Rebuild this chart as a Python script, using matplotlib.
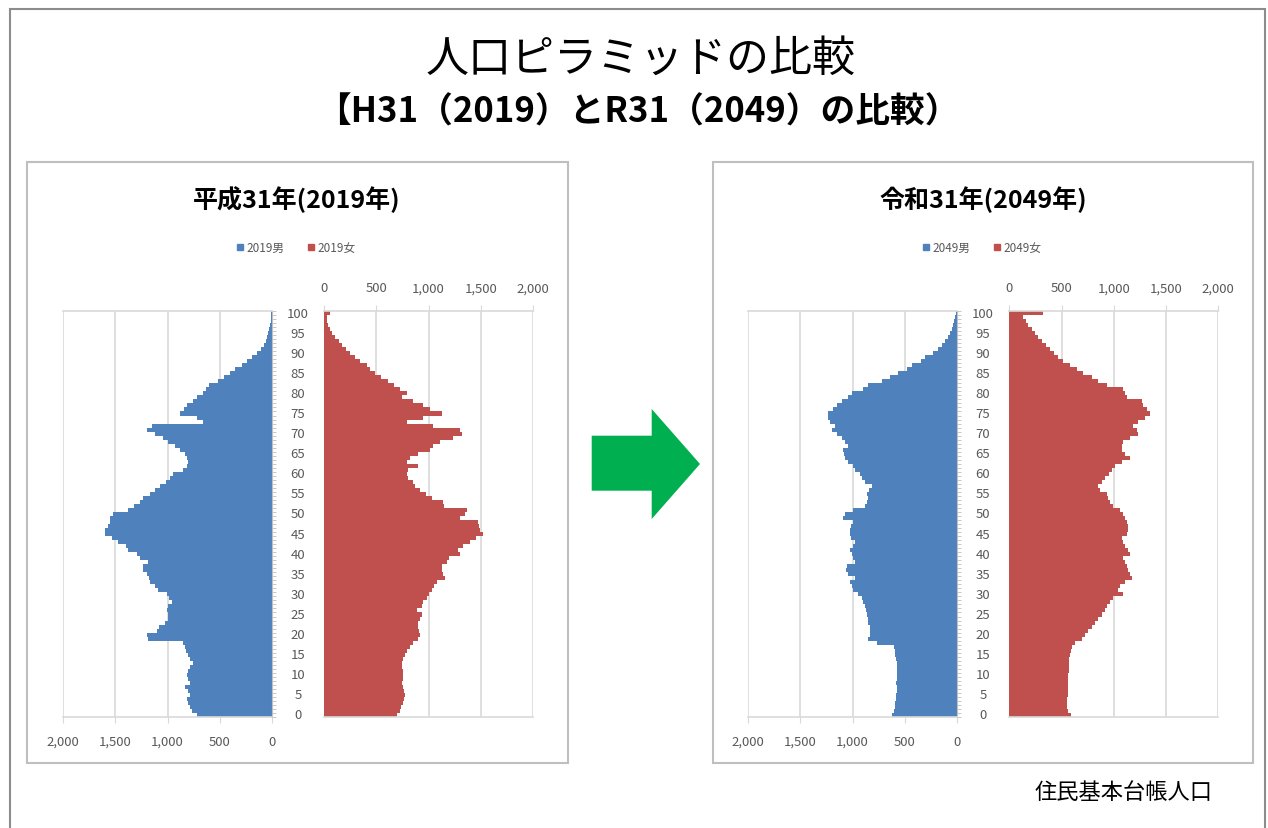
import matplotlib
matplotlib.use("Agg")
import matplotlib.pyplot as plt
from matplotlib.patches import Rectangle, Polygon
from matplotlib.transforms import blended_transform_factory
import numpy as np

plt.rcParams['font.family'] = ['Noto Sans CJK JP', 'DejaVu Sans']

# ---------------- data ----------------
ages = list(range(0, 101))

male_2019 = [720, 770, 785, 800, 817, 785, 800, 833, 785, 800,
             817, 800, 785, 753, 780, 801, 820, 833, 849, 1183,
             1199, 1103, 1080, 1024, 1000, 995, 1008, 1000, 960, 990,
             1008, 1088, 1120, 1167, 1180, 1199, 1232, 1232, 1190, 1260,
             1295, 1375, 1400, 1471, 1534, 1598, 1598, 1570, 1550, 1550,
             1520, 1380, 1320, 1263, 1230, 1167, 1120, 1072, 1010, 975,
             945, 850, 817, 800, 817, 830, 880, 930, 1000, 1040,
             1120, 1199, 1150, 657, 720, 880, 840, 817, 753, 720,
             660, 630, 600, 520, 460, 402, 350, 290, 240, 190,
             147, 110, 80, 60, 45, 35, 25, 15, 10, 6, 5]

female_2019 = [698, 727, 740, 759, 770, 775, 765, 755, 743, 755,
               759, 759, 750, 743, 760, 775, 791, 820, 855, 900,
               919, 910, 903, 903, 920, 935, 887, 935, 950, 982,
               1000, 1030, 1050, 1078, 1158, 1140, 1126, 1126, 1174, 1200,
               1301, 1285, 1333, 1400, 1450, 1518, 1493, 1480, 1477, 1301,
               1349, 1365, 1150, 1142, 1030, 980, 919, 870, 850, 800,
               791, 807, 903, 791, 820, 900, 1014, 1040, 1110, 1238,
               1317, 1300, 1046, 791, 951, 1126, 1014, 950, 855, 743,
               791, 727, 670, 616, 550, 488, 440, 408, 345, 300,
               249, 210, 175, 140, 105, 73, 55, 40, 30, 25, 57]

male_2049 = [624, 600, 592, 592, 585, 580, 576, 576, 580, 576,
             576, 576, 576, 576, 580, 590, 592, 600, 768, 848,
             835, 832, 832, 848, 855, 864, 870, 880, 896, 910,
             944, 1000, 1008, 1024, 976, 1040, 1060, 1056, 976, 1000,
             1008, 1024, 1000, 976, 1010, 1024, 1024, 1010, 992, 1088,
             1070, 1000, 880, 860, 848, 864, 840, 816, 880, 910,
             928, 976, 1000, 1040, 1072, 1080, 1088, 1040, 1072, 1104,
             1150, 1200, 1168, 1216, 1232, 1232, 1184, 1150, 1104, 1040,
             1008, 900, 848, 720, 640, 560, 480, 432, 340, 304,
             224, 180, 140, 112, 85, 64, 48, 35, 25, 15, 10]

female_2049 = [588, 565, 556, 549, 556, 565, 565, 565, 565, 565,
               565, 575, 575, 575, 575, 581, 588, 604, 629, 692,
               724, 756, 788, 820, 852, 884, 916, 932, 964, 996,
               1091, 1043, 1059, 1107, 1171, 1155, 1139, 1123, 1107, 1091,
               1155, 1139, 1107, 1091, 1075, 1123, 1139, 1139, 1123, 1107,
               1091, 1059, 996, 964, 948, 932, 868, 852, 884, 916,
               957, 980, 1011, 1075, 1155, 1107, 1075, 1075, 1091, 1155,
               1235, 1219, 1187, 1235, 1299, 1346, 1315, 1277, 1267, 1123,
               1107, 1091, 932, 852, 788, 708, 645, 581, 517, 469,
               428, 389, 351, 310, 278, 246, 214, 182, 160, 134, 320]

x_ticks = [0, 500, 1000, 1500, 2000]
x_tick_labels = ["0", "500", "1,000", "1,500", "2,000"]
age_labels = list(range(0, 101, 5))

main_title = "人口ピラミッドの比較"
sub_title = "【H31（2019）とR31（2049）の比較）"
panel_titles = ["平成31年(2019年)", "令和31年(2049年)"]
legend_labels = [["2019男", "2019女"], ["2049男", "2049女"]]
source_note = "住民基本台帳人口"

BLUE = "#4F81BD"
RED = "#C0504D"
GRID = "#D9D9D9"
TXT = "#595959"

W, H = 1268, 829
fig = plt.figure(figsize=(W / 100, H / 100), dpi=100)
fig.patch.set_facecolor("white")


def fx(x):
    return x / W


def fy(y):
    return 1 - y / H


def frame(x0, y0, x1, y1, color, lw):
    fig.add_artist(Rectangle((fx(x0), fy(y1)), fx(x1) - fx(x0), fy(y0) - fy(y1),
                             transform=fig.transFigure, fill=False,
                             edgecolor=color, linewidth=lw))


# outer frame
frame(10, 10, 1265, 835, "#8C8C8C", 1.5)
# panel frames
frame(27, 163, 568, 764, "#BFBFBF", 1.5)
frame(713, 163, 1253, 764, "#BFBFBF", 1.5)

fig.text(fx(641), fy(60), main_title, ha="center", va="center",
         fontsize=31, color="#000000")
fig.text(fx(638), fy(112), sub_title, ha="center", va="center",
         fontsize=25, fontweight="bold", color="#000000")


def make_axes(x0, x1, inverted):
    ax = fig.add_axes([fx(x0), fy(718), fx(x1) - fx(x0), fy(312) - fy(718)])
    ax.set_ylim(-0.5, 100.5)
    if inverted:
        ax.set_xlim(2000, 0)
    else:
        ax.set_xlim(0, 2000)
    ax.set_xticks(x_ticks)
    ax.set_xticklabels(x_tick_labels)
    ax.grid(axis="x", color=GRID, linewidth=1.2)
    ax.set_axisbelow(True)
    for s in ["left", "right"]:
        ax.spines[s].set_visible(False)
    for s in ["top", "bottom"]:
        ax.spines[s].set_color(GRID)
        ax.spines[s].set_linewidth(1.2)
    ax.set_yticks([])
    ax.tick_params(axis="x", colors=GRID, labelcolor=TXT, labelsize=9.5, length=4)
    if inverted:
        ax.xaxis.tick_bottom()
        ax.tick_params(axis="x", pad=9)
    else:
        ax.xaxis.tick_top()
        ax.tick_params(axis="x", pad=8)
    return ax


panels = [
    dict(male=male_2019, female=female_2019, mx=(63, 272), fx_=(324, 533), cx=298, px=297),
    dict(male=male_2049, female=female_2049, mx=(748.3, 956.7), fx_=(1009.3, 1218.3), cx=983, px=983),
]

for i, p in enumerate(panels):
    axm = make_axes(p["mx"][0], p["mx"][1], True)
    axf = make_axes(p["fx_"][0], p["fx_"][1], False)
    axm.barh(ages, p["male"], height=1.0, color=BLUE, linewidth=0)
    axf.barh(ages, p["female"], height=1.0, color=RED, linewidth=0)
    # category axis line with small ticks on male side
    axm.spines["right"].set_visible(True)
    axm.spines["right"].set_color("#BFBFBF")
    axm.yaxis.tick_right()
    axm.set_yticks(np.arange(-0.5, 101, 1))
    axm.set_yticklabels([])
    axm.tick_params(axis="y", length=3, color="#BFBFBF", width=0.6)
    # age labels
    tr = blended_transform_factory(fig.transFigure, axm.transData)
    for a in age_labels:
        fig.text(fx(p["cx"]), a, str(a), transform=tr, ha="center", va="center",
                 fontsize=9.5, color=TXT)
    # panel title
    fig.text(fx(p["px"]), fy(200), panel_titles[i], ha="center", va="center",
             fontsize=18, fontweight="bold", color="#000000")
    # legend
    ly = fy(248)
    cx = p["px"]
    sq = 6
    fig.add_artist(Rectangle((fx(cx - 60), ly - (sq / 2) / H), sq / W, sq / H,
                             transform=fig.transFigure, color=BLUE))
    fig.text(fx(cx - 51), ly, legend_labels[i][0], ha="left", va="center",
             fontsize=8.5, color=TXT)
    fig.add_artist(Rectangle((fx(cx + 11), ly - (sq / 2) / H), sq / W, sq / H,
                             transform=fig.transFigure, color=RED))
    fig.text(fx(cx + 20), ly, legend_labels[i][1], ha="left", va="center",
             fontsize=8.5, color=TXT)

# arrow
arrow_px = [(591.7, 436.7), (651.7, 436.7), (651.7, 410), (700, 465),
            (651.7, 520), (651.7, 491.7), (591.7, 491.7)]
fig.add_artist(Polygon([(fx(x), fy(y)) for x, y in arrow_px], closed=True,
                       transform=fig.transFigure, facecolor="#00B050",
                       edgecolor="none"))

fig.text(fx(1124), fy(793), source_note, ha="center", va="center",
         fontsize=16, color="#000000")

fig.savefig("out.png", dpi=100, facecolor="white")
